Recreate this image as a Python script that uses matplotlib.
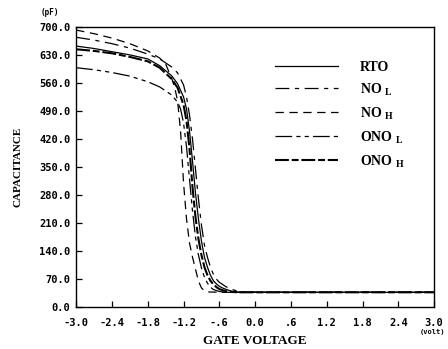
import matplotlib
matplotlib.use("Agg")
import matplotlib.pyplot as plt

plt.rcParams['lines.scale_dashes'] = False

# gate voltage (V) / capacitance (pF)
x_noh = [-3.0, -2.7, -2.4, -2.1, -1.8, -1.6, -1.5, -1.4, -1.35, -1.3, -1.25, -1.2,
         -1.15, -1.1, -1.05, -1.0, -0.95, -0.9, -0.85, -0.8, -0.6, 3.0]
c_noh = [692, 683, 672, 658, 640, 622, 607, 572, 550, 515, 440, 310,
         220, 160, 125, 95, 65, 48, 41, 38, 37, 37]

x_nol = [-3.0, -2.7, -2.4, -2.1, -1.8, -1.6, -1.4, -1.3, -1.2, -1.15, -1.1, -1.05, -1.0,
         -0.95, -0.9, -0.85, -0.8, -0.75, -0.7, -0.65, -0.6, -0.5, -0.45, -0.4, -0.3,
         -0.2, -0.1, 3.0]
c_nol = [674, 667, 658, 647, 632, 620, 600, 585, 555, 525, 480, 420, 345,
         270, 205, 155, 125, 100, 82, 70, 62, 52, 48, 45, 40,
         38, 37, 37]

x_rto = [-3.0, -2.7, -2.4, -2.1, -1.8, -1.6, -1.4, -1.3, -1.2, -1.15, -1.1, -1.05, -1.0,
         -0.95, -0.9, -0.85, -0.8, -0.75, -0.7, -0.65, -0.6, -0.55, -0.5, -0.4, -0.3,
         -0.2, 3.0]
c_rto = [652, 646, 638, 630, 620, 603, 578, 558, 525, 495, 440, 365, 285,
         220, 165, 125, 100, 80, 66, 58, 52, 48, 45, 40, 38,
         37, 37]

x_onoh = [-3.0, -2.7, -2.4, -2.1, -1.8, -1.6, -1.4, -1.3, -1.2, -1.15, -1.1, -1.05, -1.0,
          -0.95, -0.9, -0.85, -0.8, -0.75, -0.7, -0.65, -0.6, -0.5, -0.4, -0.3, 3.0]
c_onoh = [644, 640, 634, 625, 614, 598, 570, 548, 505, 465, 395, 300, 225,
          170, 130, 100, 80, 66, 57, 50, 45, 40, 38, 37, 37]

x_onol = [-3.0, -2.7, -2.4, -2.1, -1.8, -1.6, -1.4, -1.3, -1.25, -1.2, -1.15, -1.1, -1.05,
          -1.0, -0.95, -0.9, -0.85, -0.8, -0.75, -0.7, -0.6, -0.5, 3.0]
c_onol = [598, 593, 586, 577, 563, 550, 530, 512, 495, 460, 400, 320, 240,
          175, 130, 98, 75, 60, 50, 44, 39, 37, 37]

xticks = [-3.0, -2.4, -1.8, -1.2, -0.6, 0.0, 0.6, 1.2, 1.8, 2.4, 3.0]
xtick_labels = ['-3.0', '-2.4', '-1.8', '-1.2', '-.6', '0.0', '.6', '1.2', '1.8', '2.4', '3.0']
yticks = [0, 70, 140, 210, 280, 350, 420, 490, 560, 630, 700]

serif = 'Liberation Serif'
mono = 'DejaVu Sans Mono'

fig = plt.figure(figsize=(4.48, 3.49), dpi=100)
ax = fig.add_axes([0.170, 0.120, 0.799, 0.803])

lw = 0.9
ax.plot(x_rto, c_rto, color='black', lw=lw, label='RTO')
ax.plot(x_nol, c_nol, color='black', lw=lw, dashes=(10, 4, 3, 4), label=r'NO $_\mathregular{L}$')
ax.plot(x_noh, c_noh, color='black', lw=lw, dashes=(6, 4), label=r'NO $_\mathregular{H}$')
ax.plot(x_onol, c_onol, color='black', lw=lw, dashes=(12, 3, 3, 3, 3, 3), label=r'ONO $_\mathregular{L}$')
ax.plot(x_onoh, c_onoh, color='black', lw=1.5, dashes=(10, 2, 5, 2), label=r'ONO $_\mathregular{H}$')

ax.set_xlim(-3.0, 3.0)
ax.set_ylim(0, 700)
ax.set_xticks(xticks)
ax.set_xticklabels(xtick_labels)
ax.set_yticks(yticks)
ax.set_yticklabels(['%.1f' % v for v in yticks])
ax.tick_params(direction='in', length=4, width=0.9)
ax.tick_params(axis='x', pad=8)
ax.tick_params(axis='y', pad=4)
for lab in ax.get_xticklabels() + ax.get_yticklabels():
    lab.set_fontfamily(mono)
    lab.set_fontweight('bold')
    lab.set_fontsize(7.5)
for sp in ax.spines.values():
    sp.set_linewidth(1.0)

ax.set_xlabel('GATE VOLTAGE', fontfamily=serif, fontweight='bold', fontsize=9.5, labelpad=5)
ax.set_ylabel('CAPACITANCE', fontfamily=serif, fontweight='bold', fontsize=8, labelpad=12)

fig.text(0.112, 0.964, '(pF)', fontfamily=mono, fontweight='bold', fontsize=5.5, ha='center', va='center')
fig.text(0.965, 0.050, '(volt)', fontfamily=mono, fontweight='bold', fontsize=5, ha='center', va='center')

leg = ax.legend(loc='upper left', bbox_to_anchor=(0.556, 0.88), frameon=False,
                borderpad=0, borderaxespad=0, handlelength=4.5, handletextpad=1.6,
                labelspacing=0.55, prop={'family': serif, 'weight': 'bold', 'size': 10})

fig.savefig('out.png', dpi=100)
